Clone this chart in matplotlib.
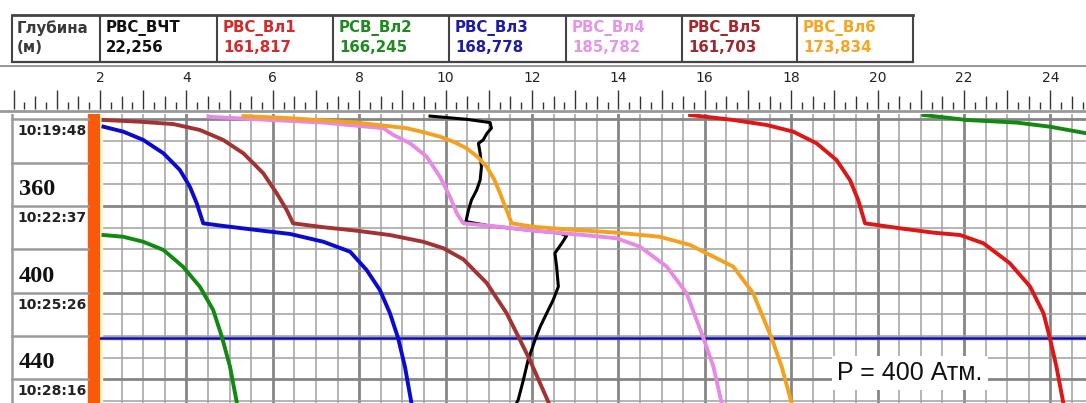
import numpy as np
import matplotlib
matplotlib.use('Agg')
import matplotlib.pyplot as plt

# header table
names = ['РВС_ВЧТ', 'РВС_Вл1', 'РСВ_Вл2', 'РВС_Вл3', 'РВС_Вл4', 'РВС_Вл5', 'РВС_Вл6']
values = ['22,256', '161,817', '166,245', '168,778', '185,782', '161,703', '173,834']
name_colors = ['#111111', '#d42a2a', '#1f8a1f', '#1c1ca8', '#e596e5', '#a3282e', '#f5a623']

# depth marks / time stamps on the left panel
depth_marks = [360, 400, 440]
time_depths = [320, 360, 400, 440]
time_labels = ['10:19:48', '10:22:37', '10:25:26', '10:28:16']

pressure_depth = 421
pressure_label = 'P = 400 Атм.'

# curves: depth (m) and value on the top scale
black_depth = [318.5, 320.0, 321.5, 324.1, 326.4, 329.5, 331.1, 335.7, 341.9, 348.0, 352.6,
               357.2, 361.8, 367.2, 369.2, 371.2, 372.5, 373.8, 377.2, 381.8, 388.0, 397.2,
               403.4, 409.5, 415.7, 421.8, 431.1, 440.3, 449.5, 451.5]
black_val = [9.64, 10.49, 11.03, 11.06, 10.96, 10.87, 10.76, 10.80, 10.83, 10.80, 10.72,
             10.60, 10.53, 10.47, 11.03, 11.95, 12.65, 12.80, 12.69, 12.53, 12.57, 12.61,
             12.49, 12.34, 12.19, 12.07, 11.91, 11.80, 11.68, 11.63]

red_depth = [318.0, 320.3, 322.6, 325.7, 331.1, 338.8, 348.0, 357.2, 368.0, 370.3, 372.3,
             373.4, 377.2, 386.4, 397.2, 409.5, 421.1, 434.2, 451.0]
red_val = [15.66, 16.66, 17.43, 18.05, 18.59, 19.05, 19.36, 19.55, 19.71, 20.52, 21.29,
           21.91, 22.45, 23.06, 23.53, 23.84, 23.99, 24.14, 24.30]

green_top_depth = [318.0, 320.3, 321.5, 323.4, 326.4, 329.0]
green_top_val = [21.06, 22.06, 23.22, 23.99, 24.82, 25.40]
green_depth = [373.4, 374.2, 376.5, 380.3, 388.0, 397.2, 408.0, 420.3, 434.2, 451.0]
green_val = [2.08, 2.54, 3.00, 3.47, 3.92, 4.31, 4.62, 4.82, 5.01, 5.17]

blue_depth = [323.4, 325.7, 329.5, 335.7, 343.4, 351.1, 358.8, 368.0, 369.2, 371.1, 372.9,
              376.5, 381.1, 389.5, 398.8, 409.4, 420.9, 434.3, 451.0]
blue_val = [2.08, 2.54, 3.00, 3.47, 3.85, 4.08, 4.24, 4.39, 4.85, 5.63, 6.40,
            7.17, 7.79, 8.17, 8.48, 8.71, 8.90, 9.06, 9.21]

pink_depth = [318.8, 320.0, 321.5, 324.1, 327.2, 331.1, 337.2, 346.5, 355.7, 363.4, 368.0,
              369.6, 371.4, 373.4, 374.9, 378.8, 388.0, 400.3, 421.1, 434.2, 451.0]
pink_val = [4.51, 5.63, 7.17, 8.56, 8.79, 9.18, 9.56, 9.87, 10.10, 10.26, 10.41,
            11.26, 12.03, 13.19, 13.96, 14.50, 15.12, 15.58, 15.97, 16.20, 16.39]

brown_depth = [320.3, 321.1, 322.2, 324.9, 329.5, 335.7, 344.9, 354.1, 361.8, 368.0, 369.8,
               371.4, 373.4, 376.5, 379.5, 384.6, 395.5, 409.4, 420.9, 431.1, 451.0]
brown_val = [2.08, 2.93, 3.70, 4.31, 4.85, 5.32, 5.78, 6.09, 6.32, 6.47, 7.17,
             7.94, 8.71, 9.48, 9.95, 10.41, 10.95, 11.41, 11.70, 11.95, 12.39]

orange_depth = [318.5, 319.5, 321.5, 324.1, 326.0, 328.0, 330.5, 333.4, 337.5, 341.9, 347.5,
                354.1, 361.8, 368.0, 369.6, 370.8, 372.3, 374.2, 378.0, 384.9, 388.0, 400.3,
                421.1, 434.2, 451.0]
orange_val = [5.32, 6.40, 7.94, 9.10, 9.50, 9.87, 10.20, 10.49, 10.75, 10.95, 11.12,
              11.26, 11.41, 11.53, 12.03, 12.80, 13.96, 14.96, 15.66, 16.35, 16.66, 17.12,
              17.55, 17.78, 18.01]

W, H = 1086, 403
fig = plt.figure(figsize=(W / 100, H / 100), dpi=100)
fig.patch.set_facecolor('white')


def box(x0, y0, x1, y1):
    return [x0 / W, 1 - y1 / H, (x1 - x0) / W, (y1 - y0) / H]


def x_at(px):
    return 2 + (px - 100) / 43.2


def d_at(py):
    return 360 + (py - 206) / 2.1667


# ---- header table ----
ax_h = fig.add_axes(box(0, 0, W, 65))
ax_h.set_xlim(0, W)
ax_h.set_ylim(65, 0)
ax_h.axis('off')
col_edges = [100, 217, 333, 449, 566, 682, 797, 913]
ax_h.plot([12, 913], [15, 15], color='#444444', lw=2.0)
ax_h.plot([12, 913], [62, 62], color='#444444', lw=1.6)
ax_h.vlines([12] + col_edges, 15, 62, color='#444444', lw=1.5)
ax_h.text(17, 28.5, 'Глубина', color='#3a3a3a', fontsize=10.8, fontweight='bold', va='center')
ax_h.text(17, 48, '(м)', color='#3a3a3a', fontsize=10.8, fontweight='bold', va='center')
for i in range(len(names)):
    ax_h.text(col_edges[i] + 6, 28.5, names[i], color=name_colors[i], fontsize=10.8,
              fontweight='bold', va='center')
    ax_h.text(col_edges[i] + 6, 48, values[i], color=name_colors[i], fontsize=10.8,
              fontweight='bold', va='center')

# ---- ruler ----
ax_r = fig.add_axes(box(0, 65, W, 113))
ax_r.set_xlim(x_at(0), x_at(W))
ax_r.set_ylim(113, 65)
ax_r.axis('off')
for t in np.arange(0, 25, 0.25):
    if t % 1 == 0:
        top = 90
    elif t % 0.5 == 0:
        top = 96
    else:
        top = 102
    ax_r.vlines(t, top, 109, color='#333333', lw=1.0)
for v in range(2, 25, 2):
    ax_r.text(v, 78, str(v), ha='center', va='center', fontsize=10, color='#222222')
ax_r.axhline(66, color='#999999', lw=1.5)
ax_r.axhline(111, color='#999999', lw=2.0)

# ---- main track ----
ax = fig.add_axes(box(100, 114, W, H))
ax.set_xlim(2, x_at(W))
ax.set_ylim(d_at(H), d_at(114))
ax.axis('off')
for v in np.arange(2.5, 25, 0.5):
    thick = v % 2 == 0
    ax.axvline(v, color='#858585' if thick else '#a0a0a0', lw=2.0 if thick else 1.1, zorder=1)
for d in range(320, 460, 10):
    thick = d % 40 == 0
    ax.axhline(d, color='#858585' if thick else '#a0a0a0', lw=2.0 if thick else 1.1, zorder=1)
ax.axvspan(2, 2.05, color='#fff3c4', zorder=1.5)

ax.axhline(pressure_depth, color='#4a4ad0', lw=2.4, zorder=2)
ax.axhline(pressure_depth, color='#10108a', lw=1.0, zorder=2.1)

lw = 2.8
ax.plot(black_val, black_depth, color='black', lw=2.2, zorder=3)
ax.plot(brown_val, brown_depth, color='#a33232', lw=lw, zorder=3)
ax.plot(blue_val, blue_depth, color='#0a0ad0', lw=lw, zorder=3)
ax.plot(green_val, green_depth, color='#128a12', lw=lw, zorder=3)
ax.plot(green_top_val, green_top_depth, color='#128a12', lw=lw, zorder=3)
ax.plot(red_val, red_depth, color='#dd1616', lw=lw, zorder=3)
ax.plot(pink_val, pink_depth, color='#e68ae6', lw=lw, zorder=3.1)
ax.plot(orange_val, orange_depth, color='#f2a21e', lw=lw, zorder=3.2)

ax.text(20.75, 437.1, pressure_label, fontsize=18, family='Liberation Sans',
        ha='center', va='center', color='#111111', zorder=4,
        bbox=dict(facecolor='white', edgecolor='none', boxstyle='square,pad=0.2'))

# ---- left depth/time panel ----
ax_l = fig.add_axes(box(0, 114, 100, H))
ax_l.set_xlim(0, 100)
ax_l.set_ylim(d_at(H), d_at(114))
ax_l.axis('off')
for d in range(320, 460, 20):
    ax_l.plot([12, 88], [d, d], color='#9a9a9a', lw=1.8)
ax_l.axvline(12, color='#9a9a9a', lw=1.8)
ax_l.axvspan(88, 99.5, color='#f85a0a')
for d in depth_marks:
    ax_l.text(19, d - 7.6, str(d), family='Liberation Serif', fontweight='bold',
              fontsize=17.5, va='center', color='#111111')
for d, lab in zip(time_depths, time_labels):
    ax_l.text(17, d + 5.6, lab, fontsize=10, fontweight='bold', va='center', color='#222222')

fig.savefig('out.png', dpi=100)
